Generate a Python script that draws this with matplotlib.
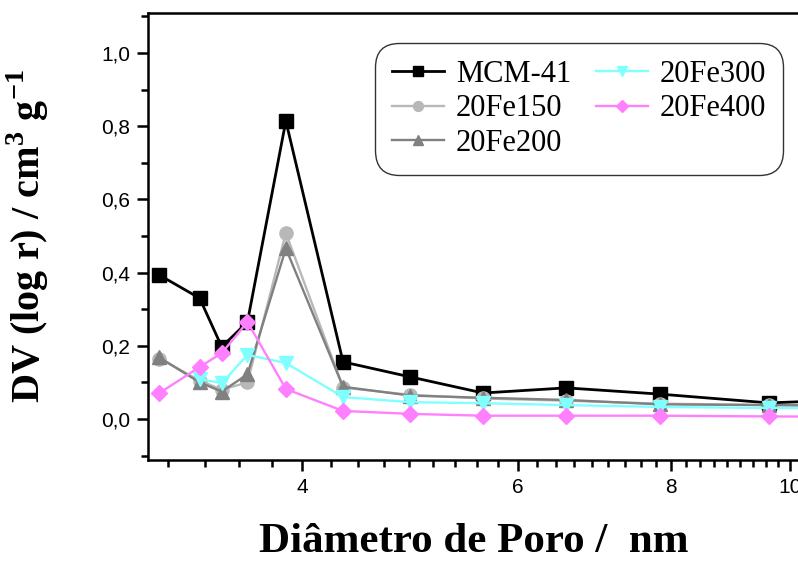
import numpy as np
import matplotlib
matplotlib.use("Agg")
import matplotlib.pyplot as plt
from matplotlib.ticker import FixedLocator, FuncFormatter, MultipleLocator, NullFormatter

plt.rcParams["mathtext.fontset"] = "custom"
plt.rcParams["mathtext.bf"] = "Liberation Serif:bold"
plt.rcParams["mathtext.rm"] = "Liberation Serif"

# pore diameters (nm) shared by all samples
diametro = [3.06, 3.30, 3.44, 3.61, 3.88, 4.32, 4.90, 5.62, 6.57, 7.83, 9.61, 12.0]

mcm41 = [0.393, 0.330, 0.197, 0.265, 0.814, 0.156, 0.115, 0.071, 0.085, 0.068, 0.044, 0.056]
fe150 = [0.165, 0.105, 0.080, 0.100, 0.508, 0.086, 0.066, 0.056, 0.050, 0.042, 0.038, 0.036]
fe200 = [0.168, 0.100, 0.075, 0.122, 0.466, 0.088, 0.064, 0.058, 0.052, 0.040, 0.038, 0.036]
fe300 = [None, 0.109, 0.098, 0.175, 0.153, 0.060, 0.046, 0.043, 0.038, 0.033, 0.030, 0.029]
fe400 = [0.071, 0.142, 0.180, 0.265, 0.082, 0.022, 0.014, 0.009, 0.009, 0.009, 0.007, 0.006]

nomes = ["MCM-41", "20Fe150", "20Fe200", "20Fe300", "20Fe400"]
series = [mcm41, fe150, fe200, fe300, fe400]
cores = ["#000000", "#b8b8b8", "#808080", "#80ffff", "#ff80ff"]
marcadores = ["s", "o", "^", "v", "D"]
tamanhos = [10, 9.5, 10, 10, 8]
larguras = [2.0, 1.7, 1.7, 1.7, 1.7]

fig = plt.figure(figsize=(7.98, 5.64), dpi=100)
W, H = 798, 564
ax = fig.add_axes([148 / W, (H - 460) / H, (800 - 148) / W, (460 - 13) / H])

for nome, ys, cor, mk, ms, lw in zip(nomes, series, cores, marcadores, tamanhos, larguras):
    xs = [x for x, y in zip(diametro, ys) if y is not None]
    yv = [y for y in ys if y is not None]
    ax.plot(xs, yv, color=cor, marker=mk, markersize=ms, linewidth=lw,
            markeredgecolor=cor, label=nome)

ax.set_xscale("log")
ax.set_xlim(2.995, 10.19)
ax.set_ylim(-0.112, 1.109)

ax.xaxis.set_major_locator(FixedLocator([4, 6, 8, 10]))
ax.xaxis.set_minor_locator(FixedLocator([4 + k * 2 / 9 for k in range(-5, 28) if k % 9 != 0]))
ax.xaxis.set_major_formatter(FuncFormatter(lambda v, p: "%d" % round(v)))
ax.xaxis.set_minor_formatter(NullFormatter())

ax.yaxis.set_major_locator(FixedLocator([0.0, 0.2, 0.4, 0.6, 0.8, 1.0]))
ax.yaxis.set_minor_locator(MultipleLocator(0.1))
ax.yaxis.set_major_formatter(FuncFormatter(lambda v, p: ("%.1f" % v).replace(".", ",")))

ax.tick_params(which="both", direction="out", top=False, right=False, width=1.8)
ax.tick_params(which="major", length=8, labelsize=15, pad=5)
ax.tick_params(which="minor", length=5)
for lado in ["left", "bottom", "top", "right"]:
    ax.spines[lado].set_linewidth(1.8)

for t in ax.get_xticklabels() + ax.get_yticklabels():
    t.set_fontfamily("Liberation Sans")

ax.set_xlabel("Diâmetro de Poro /  nm", fontfamily="Liberation Serif", fontweight="bold",
              fontsize=31)
ax.xaxis.set_label_coords(0.5, -0.141)
ax.set_ylabel(r"DV (log r) / cm$^\mathbf{3}$ g$^\mathbf{-1}$", fontfamily="Liberation Serif",
              fontweight="bold", fontsize=29)
ax.yaxis.set_label_coords(-0.149, 0.5)

leg = ax.legend(ncol=2, loc="upper left", bbox_to_anchor=(227 / 652, 1 - 30 / 447),
                prop={"family": "Liberation Serif", "size": 22}, markerscale=0.75,
                handlelength=1.7, handletextpad=0.4, columnspacing=0.8,
                labelspacing=0.18, borderpad=0.55, borderaxespad=0,
                frameon=True, fancybox=True)
frame = leg.get_frame()
frame.set_edgecolor("black")
frame.set_linewidth(1.0)
frame.set_boxstyle("round,pad=0,rounding_size=0.8")

fig.savefig("out.png", dpi=100)
